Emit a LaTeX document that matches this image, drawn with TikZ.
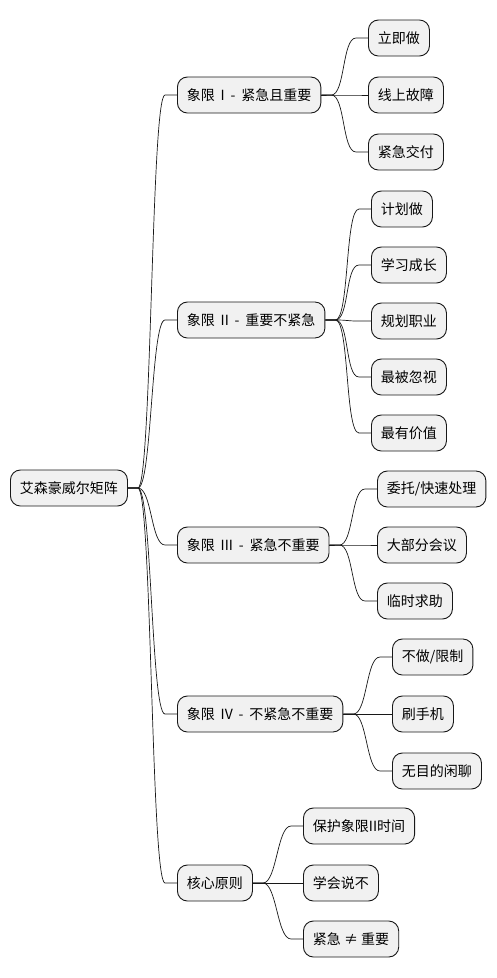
\documentclass[tikz,border=0pt]{standalone}
\usepackage{fontspec}
\newfontfamily\cjk{Noto Sans CJK SC}
\usepackage{xcolor}
\definecolor{boxfill}{HTML}{F1F1F1}
\definecolor{ink}{HTML}{181818}
\usepackage{tikz}
\usetikzlibrary{calc}
\newcommand{\widesp}{\spaceskip 5.8pt\relax}

\begin{document}
\begin{tikzpicture}[
  x=1pt, y=-1pt,
  topic/.style={draw=ink, fill=boxfill, line width=0.9pt, rounded corners=10pt,
    minimum height=36pt, inner xsep=9.5pt, anchor=west,
    font=\cjk\fontsize{14}{16}\selectfont},
  quad/.style={topic, execute at begin node=\widesp},
  link/.style={draw=ink, line width=0.7pt,
    to path={-- ++(10pt,0) .. controls +(14pt,0) and +(-14pt,0) ..
      ($(\tikztotarget)+(-12pt,0)$) -- (\tikztotarget)}}
]
\useasboundingbox (0,0) rectangle (496,978);
\fill[white] (0,0) rectangle (496,978);

% Root
\node[topic] (root) at (10,488) {艾森豪威尔矩阵};

% Quadrants and core
\node[quad] (q1) at (177,95) {象限 I - 紧急且重要};
\node[quad] (q2) at (177,320) {象限 II - 重要不紧急};
\node[quad] (q3) at (177,545) {象限 III - 紧急不重要};
\node[quad] (q4) at (177,714) {象限 IV - 不紧急不重要};
\node[topic] (core) at (177,883) {核心原则};

\foreach \n in {q1,q2,q3,q4,core} {
  \draw[link] (root.east) to (\n.west);
}

% Leaves of quadrant I
\foreach \y/\txt [count=\i] in {38/立即做, 95/线上故障, 152/紧急交付} {
  \node[topic] (q1-\i) at (368,\y) {\txt};
  \draw[link] (q1.east) to (q1-\i.west);
}

% Leaves of quadrant II
\foreach \y/\txt [count=\i] in {209/计划做, 265/学习成长, 321/规划职业, 377/最被忽视, 433/最有价值} {
  \node[topic] (q2-\i) at (371,\y) {\txt};
  \draw[link] (q2.east) to (q2-\i.west);
}

% Leaves of quadrant III
\foreach \y/\txt [count=\i] in {489/{委托/快速处理}, 545/大部分会议, 601/临时求助} {
  \node[topic] (q3-\i) at (377,\y) {\txt};
  \draw[link] (q3.east) to (q3-\i.west);
}

% Leaves of quadrant IV
\foreach \y/\txt [count=\i] in {657/{不做/限制}, 714/刷手机, 771/无目的闲聊} {
  \node[topic] (q4-\i) at (392,\y) {\txt};
  \draw[link] (q4.east) to (q4-\i.west);
}

% Leaves of the core principles
\foreach \y/\txt [count=\i] in {826/保护象限II时间, 883/学会说不, 939/紧急 ≠ 重要} {
  \node[topic] (core-\i) at (303,\y) {\txt};
  \draw[link] (core.east) to (core-\i.west);
}

\end{tikzpicture}
\end{document}
